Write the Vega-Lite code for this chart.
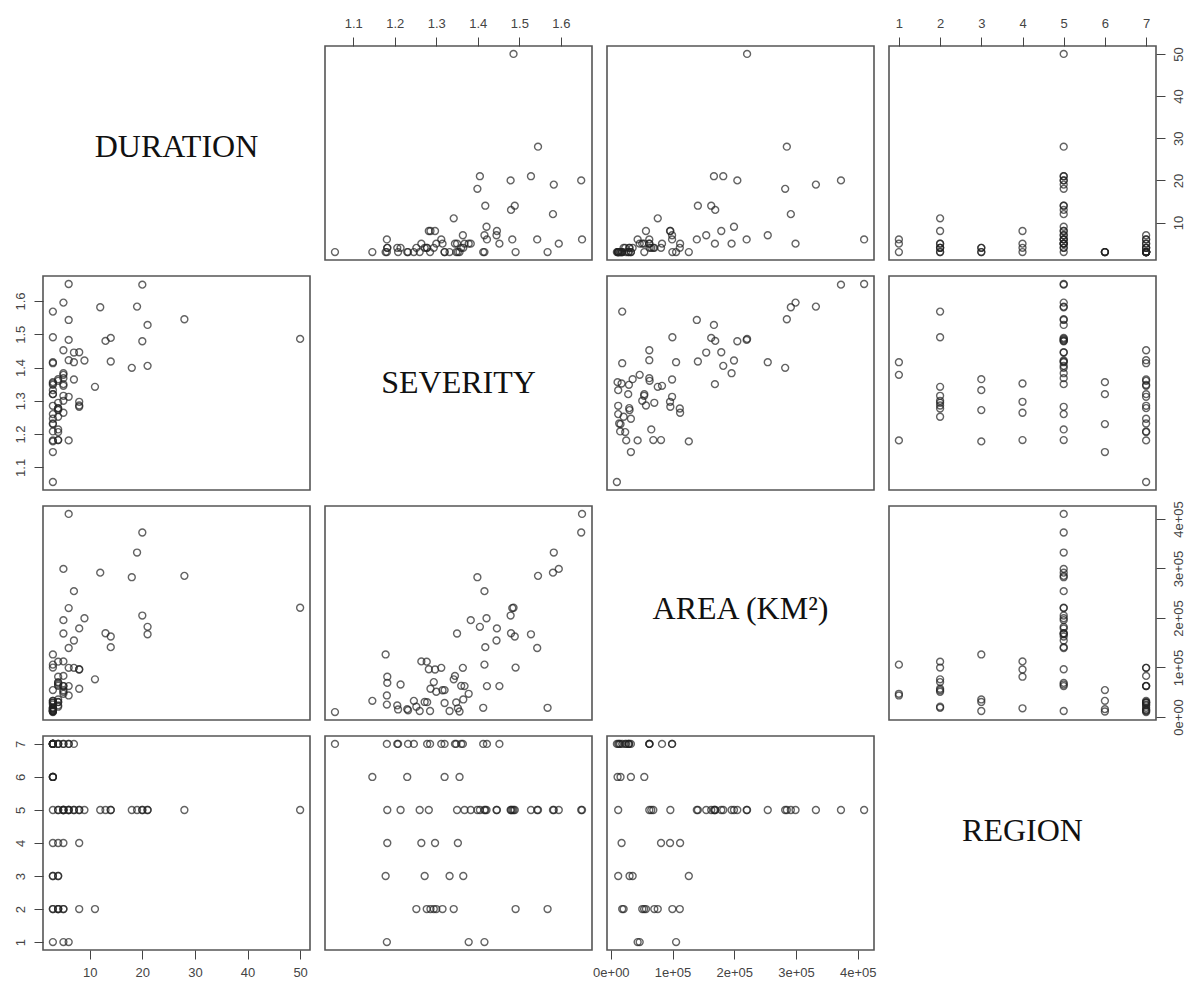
{
  "$schema": "https://vega.github.io/schema/vega-lite/v6.json",
  "padding": {"left": 13, "top": 16, "right": 5, "bottom": 5},
  "background": "white",
  "config": {
    "view": {"stroke": "#555", "strokeWidth": 1.6},
    "axis": {"tickSize": 9, "tickColor": "#444", "tickWidth": 1, "labelFont": "Liberation Sans", "labelFontSize": 13, "labelColor": "#444", "labelPadding": 7, "domain": false, "grid": false, "labelFlush": false}
  },
  "data": {"values": [
    {"DURATION": 3, "SEVERITY": 1.416, "AREA": 105700, "REGION": 1},
    {"DURATION": 5, "SEVERITY": 1.378, "AREA": 46700, "REGION": 1},
    {"DURATION": 6, "SEVERITY": 1.181, "AREA": 43400, "REGION": 1},
    {"DURATION": 3, "SEVERITY": 1.568, "AREA": 18400, "REGION": 2},
    {"DURATION": 3, "SEVERITY": 1.491, "AREA": 99700, "REGION": 2},
    {"DURATION": 11, "SEVERITY": 1.342, "AREA": 76000, "REGION": 2},
    {"DURATION": 5, "SEVERITY": 1.315, "AREA": 53900, "REGION": 2},
    {"DURATION": 5, "SEVERITY": 1.300, "AREA": 50900, "REGION": 2},
    {"DURATION": 4, "SEVERITY": 1.294, "AREA": 70400, "REGION": 2},
    {"DURATION": 8, "SEVERITY": 1.286, "AREA": 56900, "REGION": 2},
    {"DURATION": 4, "SEVERITY": 1.277, "AREA": 111700, "REGION": 2},
    {"DURATION": 4, "SEVERITY": 1.252, "AREA": 20700, "REGION": 2},
    {"DURATION": 4, "SEVERITY": 1.365, "AREA": 35300, "REGION": 3},
    {"DURATION": 3, "SEVERITY": 1.332, "AREA": 11900, "REGION": 3},
    {"DURATION": 4, "SEVERITY": 1.272, "AREA": 30300, "REGION": 3},
    {"DURATION": 3, "SEVERITY": 1.178, "AREA": 126300, "REGION": 3},
    {"DURATION": 3, "SEVERITY": 1.352, "AREA": 17400, "REGION": 4},
    {"DURATION": 8, "SEVERITY": 1.297, "AREA": 95900, "REGION": 4},
    {"DURATION": 5, "SEVERITY": 1.264, "AREA": 112200, "REGION": 4},
    {"DURATION": 4, "SEVERITY": 1.182, "AREA": 81300, "REGION": 4},
    {"DURATION": 50, "SEVERITY": 1.486, "AREA": 220700, "REGION": 5},
    {"DURATION": 28, "SEVERITY": 1.545, "AREA": 285100, "REGION": 5},
    {"DURATION": 21, "SEVERITY": 1.528, "AREA": 167000, "REGION": 5},
    {"DURATION": 21, "SEVERITY": 1.405, "AREA": 182100, "REGION": 5},
    {"DURATION": 20, "SEVERITY": 1.479, "AREA": 204900, "REGION": 5},
    {"DURATION": 20, "SEVERITY": 1.649, "AREA": 372800, "REGION": 5},
    {"DURATION": 18, "SEVERITY": 1.399, "AREA": 282400, "REGION": 5},
    {"DURATION": 19, "SEVERITY": 1.583, "AREA": 332200, "REGION": 5},
    {"DURATION": 14, "SEVERITY": 1.418, "AREA": 141000, "REGION": 5},
    {"DURATION": 14, "SEVERITY": 1.489, "AREA": 162600, "REGION": 5},
    {"DURATION": 13, "SEVERITY": 1.480, "AREA": 169100, "REGION": 5},
    {"DURATION": 12, "SEVERITY": 1.581, "AREA": 291600, "REGION": 5},
    {"DURATION": 9, "SEVERITY": 1.421, "AREA": 199500, "REGION": 5},
    {"DURATION": 8, "SEVERITY": 1.446, "AREA": 178900, "REGION": 5},
    {"DURATION": 7, "SEVERITY": 1.416, "AREA": 254200, "REGION": 5},
    {"DURATION": 7, "SEVERITY": 1.445, "AREA": 154500, "REGION": 5},
    {"DURATION": 6, "SEVERITY": 1.543, "AREA": 139300, "REGION": 5},
    {"DURATION": 6, "SEVERITY": 1.483, "AREA": 220000, "REGION": 5},
    {"DURATION": 6, "SEVERITY": 1.651, "AREA": 410300, "REGION": 5},
    {"DURATION": 5, "SEVERITY": 1.350, "AREA": 168600, "REGION": 5},
    {"DURATION": 5, "SEVERITY": 1.383, "AREA": 195600, "REGION": 5},
    {"DURATION": 5, "SEVERITY": 1.595, "AREA": 299200, "REGION": 5},
    {"DURATION": 8, "SEVERITY": 1.282, "AREA": 96400, "REGION": 5},
    {"DURATION": 3, "SEVERITY": 1.260, "AREA": 11900, "REGION": 5},
    {"DURATION": 5, "SEVERITY": 1.368, "AREA": 62300, "REGION": 5},
    {"DURATION": 4, "SEVERITY": 1.214, "AREA": 65500, "REGION": 5},
    {"DURATION": 4, "SEVERITY": 1.182, "AREA": 68800, "REGION": 5},
    {"DURATION": 3, "SEVERITY": 1.356, "AREA": 10900, "REGION": 6},
    {"DURATION": 3, "SEVERITY": 1.320, "AREA": 54200, "REGION": 6},
    {"DURATION": 3, "SEVERITY": 1.230, "AREA": 15700, "REGION": 6},
    {"DURATION": 3, "SEVERITY": 1.146, "AREA": 32500, "REGION": 6},
    {"DURATION": 5, "SEVERITY": 1.452, "AREA": 62300, "REGION": 7},
    {"DURATION": 6, "SEVERITY": 1.422, "AREA": 62300, "REGION": 7},
    {"DURATION": 3, "SEVERITY": 1.413, "AREA": 18400, "REGION": 7},
    {"DURATION": 7, "SEVERITY": 1.364, "AREA": 99200, "REGION": 7},
    {"DURATION": 4, "SEVERITY": 1.360, "AREA": 62800, "REGION": 7},
    {"DURATION": 3, "SEVERITY": 1.348, "AREA": 29300, "REGION": 7},
    {"DURATION": 5, "SEVERITY": 1.345, "AREA": 82900, "REGION": 7},
    {"DURATION": 3, "SEVERITY": 1.320, "AREA": 28100, "REGION": 7},
    {"DURATION": 6, "SEVERITY": 1.312, "AREA": 99200, "REGION": 7},
    {"DURATION": 3, "SEVERITY": 1.285, "AREA": 11900, "REGION": 7},
    {"DURATION": 4, "SEVERITY": 1.278, "AREA": 29800, "REGION": 7},
    {"DURATION": 3, "SEVERITY": 1.246, "AREA": 32500, "REGION": 7},
    {"DURATION": 3, "SEVERITY": 1.232, "AREA": 13500, "REGION": 7},
    {"DURATION": 3, "SEVERITY": 1.208, "AREA": 15100, "REGION": 7},
    {"DURATION": 4, "SEVERITY": 1.206, "AREA": 23300, "REGION": 7},
    {"DURATION": 3, "SEVERITY": 1.181, "AREA": 24900, "REGION": 7},
    {"DURATION": 3, "SEVERITY": 1.056, "AREA": 9800, "REGION": 7}
  ]},
  "columns": 4,
  "spacing": {"row": 16, "column": 15},
  "bounds": "flush",
  "concat": [
    {"width": 267, "height": 214, "data": {"values": [{"label": "DURATION"}]},
     "mark": {"type": "text", "font": "Liberation Serif", "fontSize": 32, "color": "#111", "baseline": "middle", "align": "center", "dy": -6},
     "encoding": {"text": {"field": "label"}}},
    {"width": 267, "height": 214,
     "mark": {"type": "point", "shape": "circle", "filled": false, "size": 48, "strokeWidth": 1.4, "color": "#222"},
     "encoding": {
       "x": {"field": "SEVERITY", "type": "quantitative", "scale": {"domain": [1.032, 1.675], "nice": false, "zero": false}, "axis": {"orient": "top", "values": [1.1, 1.2, 1.3, 1.4, 1.5, 1.6], "format": ".1f", "title": null}},
       "y": {"field": "DURATION", "type": "quantitative", "scale": {"domain": [1.12, 51.88], "nice": false, "zero": false}, "axis": null}}},
    {"width": 267, "height": 214,
     "mark": {"type": "point", "shape": "circle", "filled": false, "size": 48, "strokeWidth": 1.4, "color": "#222"},
     "encoding": {
       "x": {"field": "AREA", "type": "quantitative", "scale": {"domain": [-6220, 426320], "nice": false, "zero": false}, "axis": null},
       "y": {"field": "DURATION", "type": "quantitative", "scale": {"domain": [1.12, 51.88], "nice": false, "zero": false}, "axis": null}}},
    {"width": 267, "height": 214,
     "mark": {"type": "point", "shape": "circle", "filled": false, "size": 48, "strokeWidth": 1.4, "color": "#222"},
     "encoding": {
       "x": {"field": "REGION", "type": "quantitative", "scale": {"domain": [0.76, 7.24], "nice": false, "zero": false}, "axis": {"orient": "top", "values": [1, 2, 3, 4, 5, 6, 7], "format": "d", "title": null}},
       "y": {"field": "DURATION", "type": "quantitative", "scale": {"domain": [1.12, 51.88], "nice": false, "zero": false}, "axis": {"orient": "right", "values": [10, 20, 30, 40, 50], "format": "d", "labelAngle": 270, "title": null}}}},

    {"width": 267, "height": 214,
     "mark": {"type": "point", "shape": "circle", "filled": false, "size": 48, "strokeWidth": 1.4, "color": "#222"},
     "encoding": {
       "x": {"field": "DURATION", "type": "quantitative", "scale": {"domain": [1.12, 51.88], "nice": false, "zero": false}, "axis": null},
       "y": {"field": "SEVERITY", "type": "quantitative", "scale": {"domain": [1.032, 1.675], "nice": false, "zero": false}, "axis": {"orient": "left", "values": [1.1, 1.2, 1.3, 1.4, 1.5, 1.6], "format": ".1f", "labelAngle": 270, "title": null}}}},
    {"width": 267, "height": 214, "data": {"values": [{"label": "SEVERITY"}]},
     "mark": {"type": "text", "font": "Liberation Serif", "fontSize": 32, "color": "#111", "baseline": "middle", "align": "center"},
     "encoding": {"text": {"field": "label"}}},
    {"width": 267, "height": 214,
     "mark": {"type": "point", "shape": "circle", "filled": false, "size": 48, "strokeWidth": 1.4, "color": "#222"},
     "encoding": {
       "x": {"field": "AREA", "type": "quantitative", "scale": {"domain": [-6220, 426320], "nice": false, "zero": false}, "axis": null},
       "y": {"field": "SEVERITY", "type": "quantitative", "scale": {"domain": [1.032, 1.675], "nice": false, "zero": false}, "axis": null}}},
    {"width": 267, "height": 214,
     "mark": {"type": "point", "shape": "circle", "filled": false, "size": 48, "strokeWidth": 1.4, "color": "#222"},
     "encoding": {
       "x": {"field": "REGION", "type": "quantitative", "scale": {"domain": [0.76, 7.24], "nice": false, "zero": false}, "axis": null},
       "y": {"field": "SEVERITY", "type": "quantitative", "scale": {"domain": [1.032, 1.675], "nice": false, "zero": false}, "axis": null}}},

    {"width": 267, "height": 214,
     "mark": {"type": "point", "shape": "circle", "filled": false, "size": 48, "strokeWidth": 1.4, "color": "#222"},
     "encoding": {
       "x": {"field": "DURATION", "type": "quantitative", "scale": {"domain": [1.12, 51.88], "nice": false, "zero": false}, "axis": null},
       "y": {"field": "AREA", "type": "quantitative", "scale": {"domain": [-6220, 426320], "nice": false, "zero": false}, "axis": null}}},
    {"width": 267, "height": 214,
     "mark": {"type": "point", "shape": "circle", "filled": false, "size": 48, "strokeWidth": 1.4, "color": "#222"},
     "encoding": {
       "x": {"field": "SEVERITY", "type": "quantitative", "scale": {"domain": [1.032, 1.675], "nice": false, "zero": false}, "axis": null},
       "y": {"field": "AREA", "type": "quantitative", "scale": {"domain": [-6220, 426320], "nice": false, "zero": false}, "axis": null}}},
    {"width": 267, "height": 214, "data": {"values": [{"label": "AREA (KM²)"}]},
     "mark": {"type": "text", "font": "Liberation Serif", "fontSize": 32, "color": "#111", "baseline": "middle", "align": "center", "dy": -4},
     "encoding": {"text": {"field": "label"}}},
    {"width": 267, "height": 214,
     "mark": {"type": "point", "shape": "circle", "filled": false, "size": 48, "strokeWidth": 1.4, "color": "#222"},
     "encoding": {
       "x": {"field": "REGION", "type": "quantitative", "scale": {"domain": [0.76, 7.24], "nice": false, "zero": false}, "axis": null},
       "y": {"field": "AREA", "type": "quantitative", "scale": {"domain": [-6220, 426320], "nice": false, "zero": false}, "axis": {"orient": "right", "values": [0, 100000, 200000, 300000, 400000], "labelExpr": "datum.value == 0 ? '0e+00' : format(datum.value / 100000, 'd') + 'e+05'", "labelAngle": 270, "title": null}}}},

    {"width": 267, "height": 214,
     "mark": {"type": "point", "shape": "circle", "filled": false, "size": 48, "strokeWidth": 1.4, "color": "#222"},
     "encoding": {
       "x": {"field": "DURATION", "type": "quantitative", "scale": {"domain": [1.12, 51.88], "nice": false, "zero": false}, "axis": {"orient": "bottom", "values": [10, 20, 30, 40, 50], "format": "d", "title": null}},
       "y": {"field": "REGION", "type": "quantitative", "scale": {"domain": [0.76, 7.24], "nice": false, "zero": false}, "axis": {"orient": "left", "values": [1, 2, 3, 4, 5, 6, 7], "format": "d", "labelAngle": 270, "title": null}}}},
    {"width": 267, "height": 214,
     "mark": {"type": "point", "shape": "circle", "filled": false, "size": 48, "strokeWidth": 1.4, "color": "#222"},
     "encoding": {
       "x": {"field": "SEVERITY", "type": "quantitative", "scale": {"domain": [1.032, 1.675], "nice": false, "zero": false}, "axis": null},
       "y": {"field": "REGION", "type": "quantitative", "scale": {"domain": [0.76, 7.24], "nice": false, "zero": false}, "axis": null}}},
    {"width": 267, "height": 214,
     "mark": {"type": "point", "shape": "circle", "filled": false, "size": 48, "strokeWidth": 1.4, "color": "#222"},
     "encoding": {
       "x": {"field": "AREA", "type": "quantitative", "scale": {"domain": [-6220, 426320], "nice": false, "zero": false}, "axis": {"orient": "bottom", "values": [0, 100000, 200000, 300000, 400000], "labelExpr": "datum.value == 0 ? '0e+00' : format(datum.value / 100000, 'd') + 'e+05'", "title": null}},
       "y": {"field": "REGION", "type": "quantitative", "scale": {"domain": [0.76, 7.24], "nice": false, "zero": false}, "axis": null}}},
    {"width": 267, "height": 214, "data": {"values": [{"label": "REGION"}]},
     "mark": {"type": "text", "font": "Liberation Serif", "fontSize": 32, "color": "#111", "baseline": "middle", "align": "center", "dy": -12},
     "encoding": {"text": {"field": "label"}}}
  ]
}
